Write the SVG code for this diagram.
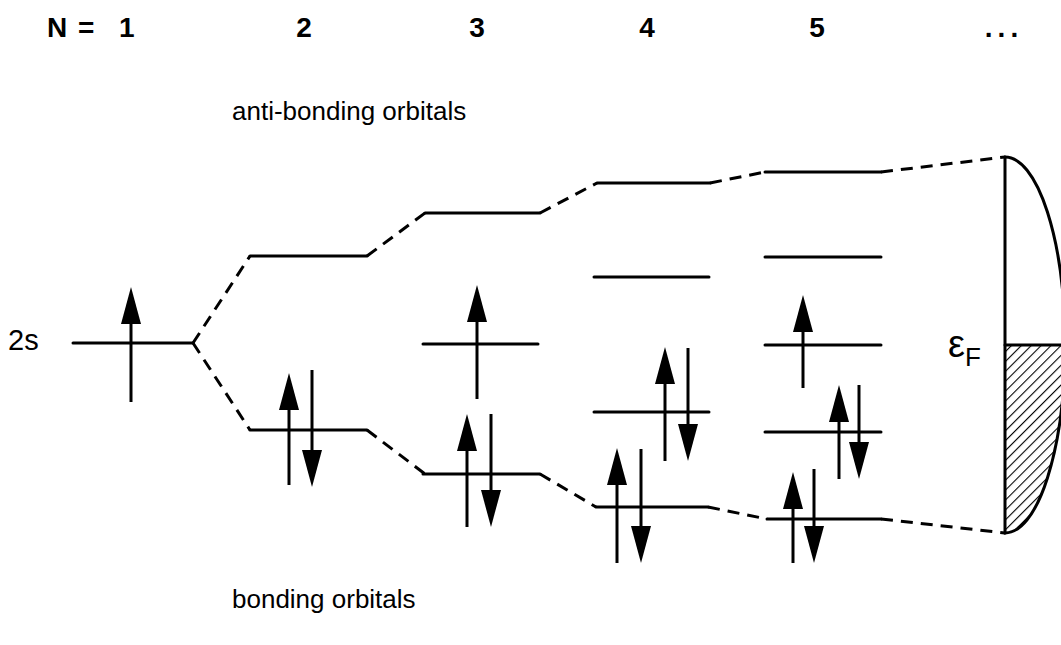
<svg xmlns="http://www.w3.org/2000/svg" width="1061" height="645" viewBox="0 0 1061 645">
<style>
.lv{stroke:#000;stroke-width:3;fill:none;stroke-linecap:round}
.ds{stroke:#000;stroke-width:3;fill:none;stroke-dasharray:12 8}
.sh{stroke:#000;stroke-width:3}
.hd{fill:#000}
.t{font-family:"Liberation Sans",Arial,sans-serif;fill:#000}
.n{font-size:28px;font-weight:bold}
</style>
<defs>
<polygon id="up" points="0,0 -10,37 10,37" class="hd"/>
<polygon id="dn" points="0,0 -10,-37 10,-37" class="hd"/>
<pattern id="hatch" patternUnits="userSpaceOnUse" width="7" height="7" patternTransform="rotate(45)">
<line x1="0" y1="0" x2="0" y2="7" stroke="#000" stroke-width="2.2"/>
</pattern>
</defs>
<g id="labels">
<text class="t n" x="47" y="37">N</text>
<text class="t n" x="78" y="37">=</text>
<text class="t n" x="119" y="37">1</text>
<text class="t n" x="304" y="37" text-anchor="middle">2</text>
<text class="t n" x="477" y="37" text-anchor="middle">3</text>
<text class="t n" x="647" y="37" text-anchor="middle">4</text>
<text class="t n" x="817" y="37" text-anchor="middle">5</text>
<text class="t n" x="1004" y="37" text-anchor="middle" letter-spacing="5">...</text>
<text class="t" x="232" y="120" font-size="26">anti-bonding orbitals</text>
<text class="t" x="232" y="608" font-size="26">bonding orbitals</text>
<text class="t" x="8" y="350" font-size="29">2s</text>
<text class="t" x="948" y="357" font-size="38">ε<tspan font-size="26" dy="9">F</tspan></text>
</g>
<g id="connectors">
<path class="ds" d="M193,343 L250,256 M367,256 L425,213 M540,213 L597,183 M710,183 L765,172 M881,172 L1005,157"/>
<path class="ds" d="M193,343 L250,430 M367,430 L425,474 M540,474 L596,507 M708,507 L767,519 M881,519 L1005,533"/>
</g>
<g id="N1">
<line class="lv" x1="73" y1="343" x2="193" y2="343"/>
<line class="sh" x1="131" y1="310" x2="131" y2="402"/><use href="#up" x="131" y="287"/>
</g>
<g id="N2">
<line class="lv" x1="250" y1="256" x2="367" y2="256"/>
<line class="lv" x1="250" y1="430" x2="367" y2="430"/>
<line class="sh" x1="289" y1="395" x2="289" y2="485"/><use href="#up" x="289" y="373"/>
<line class="sh" x1="312" y1="370" x2="312" y2="465"/><use href="#dn" x="312" y="487"/>
</g>
<g id="N3">
<line class="lv" x1="425" y1="213" x2="540" y2="213"/>
<line class="lv" x1="423" y1="344" x2="538" y2="344"/>
<line class="lv" x1="423" y1="474" x2="540" y2="474"/>
<line class="sh" x1="477" y1="308" x2="477" y2="399"/><use href="#up" x="477" y="285"/>
<line class="sh" x1="467" y1="437" x2="467" y2="527"/><use href="#up" x="467" y="414"/>
<line class="sh" x1="491" y1="414" x2="491" y2="505"/><use href="#dn" x="491" y="527"/>
</g>
<g id="N4">
<line class="lv" x1="597" y1="183" x2="710" y2="183"/>
<line class="lv" x1="594" y1="277" x2="709" y2="277"/>
<line class="lv" x1="594" y1="412" x2="709" y2="412"/>
<line class="lv" x1="596" y1="507" x2="708" y2="507"/>
<line class="sh" x1="665" y1="370" x2="665" y2="461"/><use href="#up" x="665" y="347"/>
<line class="sh" x1="688" y1="348" x2="688" y2="440"/><use href="#dn" x="688" y="461"/>
<line class="sh" x1="617" y1="470" x2="617" y2="563"/><use href="#up" x="617" y="448"/>
<line class="sh" x1="641" y1="449" x2="641" y2="541"/><use href="#dn" x="641" y="563"/>
</g>
<g id="N5">
<line class="lv" x1="765" y1="172" x2="881" y2="172"/>
<line class="lv" x1="765" y1="257" x2="881" y2="257"/>
<line class="lv" x1="765" y1="345" x2="881" y2="345"/>
<line class="lv" x1="765" y1="432" x2="881" y2="432"/>
<line class="lv" x1="767" y1="519" x2="881" y2="519"/>
<line class="sh" x1="803" y1="318" x2="803" y2="388"/><use href="#up" x="803" y="295"/>
<line class="sh" x1="839" y1="408" x2="839" y2="479"/><use href="#up" x="839" y="385"/>
<line class="sh" x1="859" y1="385" x2="859" y2="458"/><use href="#dn" x="859" y="479"/>
<line class="sh" x1="793" y1="495" x2="793" y2="563"/><use href="#up" x="793" y="472"/>
<line class="sh" x1="814" y1="469" x2="814" y2="541"/><use href="#dn" x="814" y="563"/>
</g>
<g id="band">
<path d="M1005,345 L1065,345 A60,188 0 0 1 1005,533 Z" fill="url(#hatch)"/>
<path class="lv" d="M1005,157 A60,188 0 0 1 1005,533"/>
<line class="lv" x1="1005" y1="157" x2="1005" y2="533"/>
<line class="lv" x1="1005" y1="345" x2="1061" y2="345"/>
</g>
</svg>
